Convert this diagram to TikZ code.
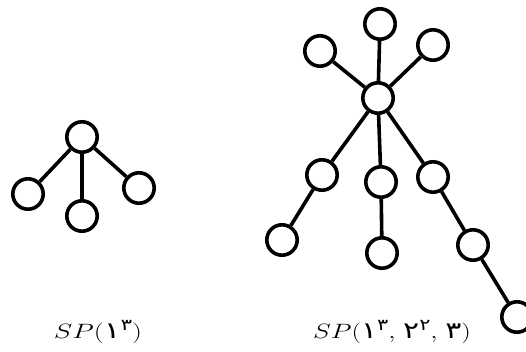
\documentclass[tikz,border=0pt]{standalone}
\usepackage{fontspec}
\newfontfamily\pdig[Script=Arabic]{DejaVu Sans}
\newcommand{\pd}[1]{{\fontsize{23}{26}\selectfont\pdig #1}}
\newcommand{\ps}[1]{\raisebox{0.4em}{\fontsize{16}{18}\selectfont\pdig #1}}
\tikzset{
  vtx/.style={circle, draw, line width=3.6pt, minimum size=30.4pt, inner sep=0pt, fill=white},
  edg/.style={line width=3.6pt},
  lbl/.style={font=\fontsize{21}{25}\selectfont, inner sep=0pt}
}
\begin{document}
\begin{tikzpicture}[x=1pt,y=-1pt]
\useasboundingbox (0,0) rectangle (526,352);
% left tree
\node[vtx] (a0) at (82,137) {};
\node[vtx] (a1) at (28,194) {};
\node[vtx] (a2) at (82,216) {};
\node[vtx] (a3) at (139,188) {};
\draw[edg] (a0) -- (a1);
\draw[edg] (a0) -- (a2);
\draw[edg] (a0) -- (a3);
% right tree
\node[vtx] (h) at (378,98) {};
\node[vtx] (t) at (380,24) {};
\node[vtx] (tl) at (320,51) {};
\node[vtx] (tr) at (433,45) {};
\node[vtx] (ml) at (322,175) {};
\node[vtx] (mm) at (381,182) {};
\node[vtx] (mr) at (433,177) {};
\node[vtx] (ll) at (282,240) {};
\node[vtx] (lm) at (382,253) {};
\node[vtx] (lr) at (473,245) {};
\node[vtx] (br) at (517,317) {};
\draw[edg] (h) -- (t);
\draw[edg] (h) -- (tl);
\draw[edg] (h) -- (tr);
\draw[edg] (h) -- (ml);
\draw[edg] (h) -- (mm);
\draw[edg] (h) -- (mr);
\draw[edg] (ml) -- (ll);
\draw[edg] (mm) -- (lm);
\draw[edg] (mr) -- (lr);
\draw[edg] (lr) -- (br);
% labels
\node[lbl] (l1) at (98,332) {\scalebox{1.35}[1]{$SP($\pd{۱}\ps{۳}$)$}};
\node[lbl] (l2) at (392,332) {\scalebox{1.3}[1]{$SP($\pd{۱}\ps{۳}$,\;$\pd{۲}\ps{۲}$,\;$\pd{۳}$)$}};
\end{tikzpicture}
\end{document}
